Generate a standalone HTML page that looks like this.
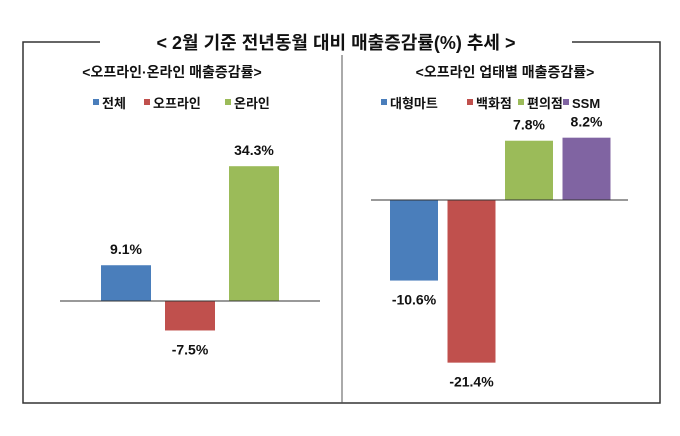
<!DOCTYPE html>
<html><head><meta charset="utf-8">
<style>
html,body{margin:0;padding:0;background:#fff;}
svg{display:block;font-family:"Liberation Sans","Noto Sans CJK KR",sans-serif;}
.t{font-weight:bold;fill:#111;}
</style></head>
<body>
<svg width="680" height="436" viewBox="0 0 680 436" xmlns="http://www.w3.org/2000/svg">
  <rect x="0" y="0" width="680" height="436" fill="#fff"/>
  <g stroke="#333" stroke-width="1.5" fill="none">
    <polyline points="100,42 23,42 23,403 660,403 660,42 572,42"/>
  </g>
  <line x1="342" y1="55" x2="342" y2="403" stroke="#555" stroke-width="1"/>
  <text class="t" x="336" y="49" text-anchor="middle" font-size="18">&lt; 2월 기준 전년동월 대비 매출증감률(%) 추세 &gt;</text>
  <text class="t" x="172" y="77" text-anchor="middle" font-size="14">&lt;오프라인·온라인 매출증감률&gt;</text>
  <text class="t" x="505" y="77" text-anchor="middle" font-size="14">&lt;오프라인 업태별 매출증감률&gt;</text>
  <g id="left"></g>
  <g id="right"></g>
</svg>
<script>
const leftCats = ["전체","오프라인","온라인"];
const leftVals = [9.1,-7.5,34.3];
const leftLabels = ["9.1%","-7.5%","34.3%"];
const rightCats = ["대형마트","백화점","편의점","SSM"];
const rightVals = [-10.6,-21.4,7.8,8.2];
const rightLabels = ["-10.6%","-21.4%","7.8%","8.2%"];

const NS="http://www.w3.org/2000/svg";
function mk(tag,attrs,parent){const e=document.createElementNS(NS,tag);for(const k in attrs)e.setAttribute(k,attrs[k]);parent.appendChild(e);return e;}

function draw(g,cats,vals,labels,colors,cfg){
  const y=v=>cfg.base - v*cfg.scale;
  const x=i=>cfg.x0 + i*cfg.step;
  // legend
  cats.forEach((c,i)=>{
    const sq=mk('rect',{x:cfg.legX[i],y:99,width:6,height:6,fill:colors[i]},g);
    
    
    const t=mk('text',{x:cfg.legX[i]+9,y:108,'font-size':13,'class':'t'},g);
    t.textContent=c;
    
    
  });
  vals.forEach((v,i)=>{
    const top=Math.min(y(v),y(0)), h=Math.abs(y(v)-y(0));
    const r=mk('rect',{x:x(i),y:top,width:cfg.w,height:h,fill:colors[i]},g);
    
    
    const ly = v>=0 ? y(v)-11 : y(v)+24;
    const t=mk('text',{x:x(i)+cfg.w/2,y:ly,'text-anchor':'middle','font-size':14,'class':'t'},g);
    t.textContent=labels[i];
    
    
  });
  const l=mk('line',{x1:cfg.lx1,x2:cfg.lx2,y1:cfg.base,y2:cfg.base,stroke:'#333','stroke-width':1},g);
  
  
}
draw(document.getElementById('left'),leftCats,leftVals,leftLabels,
  ['#4a7ebb','#c0504d','#9bbb59'],
  {base:301,scale:3.93,x0:101,step:64,w:50,lx1:60,lx2:320,legX:[93,144,225]});
draw(document.getElementById('right'),rightCats,rightVals,rightLabels,
  ['#4a7ebb','#c0504d','#9bbb59','#8064a2'],
  {base:200,scale:7.6,x0:390,step:57.5,w:48,lx1:371,lx2:628,legX:[381,467,518,563]});
</script>
</body></html>
